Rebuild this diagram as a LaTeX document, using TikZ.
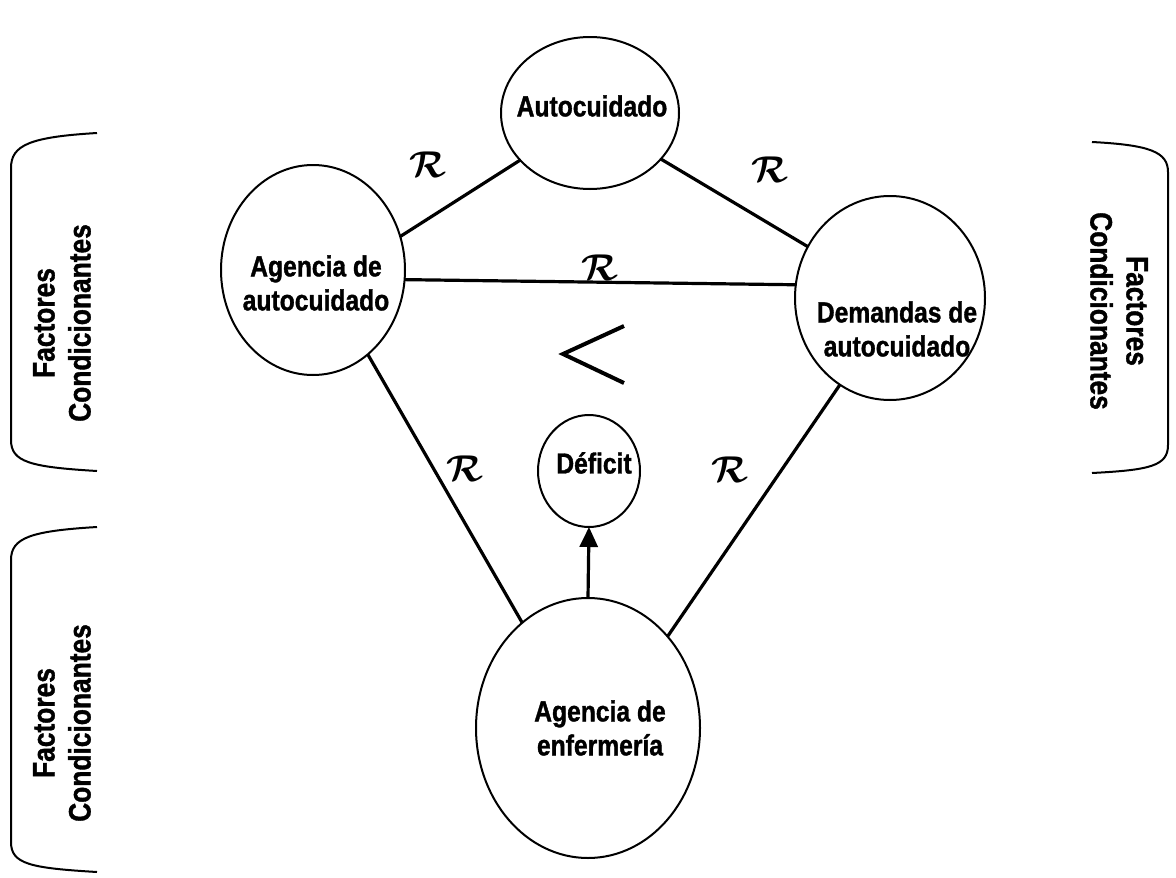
\documentclass[tikz,border=0pt]{standalone}
\usepackage{fontspec}
\usepackage{bm}
\setmainfont{Liberation Sans}[FakeStretch=0.85, BoldFeatures={FakeStretch=0.85, FakeBold=1.2}]
\usetikzlibrary{shapes.geometric,arrows.meta}
\tikzset{
  circ/.style={ellipse, draw, line width=2pt, inner sep=0pt, outer sep=0pt},
  lbl/.style={font=\fontsize{29}{34}\selectfont\bfseries, align=center, inner sep=0pt},
  side/.style={font=\fontsize{31}{36}\selectfont\bfseries, align=center, inner sep=0pt},
  conn/.style={line width=3.2pt},
  rel/.style={inner sep=0pt, font=\fontsize{24}{26}\selectfont, scale=1.5},
  brk/.style={line width=2pt},
}
\begin{document}
\begin{tikzpicture}[x=1pt,y=-1pt]
\useasboundingbox (0,0) rectangle (1176,878);
% ellipses
\node[circ, minimum width=178pt, minimum height=152pt] (auto) at (590,113) {};
\node[circ, minimum width=184pt, minimum height=210pt] (agencia) at (313,270) {};
\node[circ, minimum width=190pt, minimum height=204pt] (demandas) at (890,298) {};
\node[circ, minimum width=102pt, minimum height=112pt] (deficit) at (589,471) {};
\node[circ, minimum width=224pt, minimum height=260pt] (enf) at (588,728) {};
% texts
\node[lbl] (autot) at (592,106) {Autocuidado};
\node[lbl] (agenciat) at (316,283) {Agencia de\\autocuidado};
\node[lbl] (demandast) at (897,329) {Demandas de\\autocuidado};
\node[lbl] (deficitt) at (594,463) {Déficit};
\node[lbl] (enft) at (600,728) {Agencia de\\enfermería};
% connectors
\draw[conn] (agencia.21) -- (auto.214);
\draw[conn] (auto.-33) -- (demandas.148);
\draw[conn] (agencia.-6) -- (demandas.172);
\draw[conn] (agencia.-57) -- (enf.122);
\draw[conn] (demandas.240) -- (enf.49);
\draw[conn, -{Triangle[width=18pt,length=20pt]}] (enf.north) -- (deficit.south);
% relation marks
\node[rel] (r1) at (428,165) {$\bm{\mathcal{R}}$};
\node[rel] (r2) at (770,170) {$\bm{\mathcal{R}}$};
\node[rel] (r3) at (600,268) {$\bm{\mathcal{R}}$};
\node[rel] (r4) at (465,469) {$\bm{\mathcal{R}}$};
\node[rel] (r5) at (730,470) {$\bm{\mathcal{R}}$};
% less-than sign
\draw[line width=4pt, miter limit=10] (624,326) -- (563,354) -- (624,383);
% brackets
\draw[brk] (97,133) .. controls (30,137) and (11,145) .. (11,168) -- (11,440) .. controls (11,462) and (30,467) .. (97,471);
\draw[brk] (97,527) .. controls (30,531) and (11,538) .. (11,560) -- (11,842) .. controls (11,864) and (30,868) .. (97,872);
\draw[brk] (1092,142) .. controls (1150,145) and (1168,152) .. (1168,172) -- (1168,445) .. controls (1168,466) and (1150,470) .. (1092,473);
\node[side, rotate=90] (fc1) at (62,323) {Factores\\Condicionantes};
\node[side, rotate=90] (fc2) at (62,723) {Factores\\Condicionantes};
\node[side, rotate=-90] (fc3) at (1119,311) {Factores\\Condicionantes};
\end{tikzpicture}
\end{document}
